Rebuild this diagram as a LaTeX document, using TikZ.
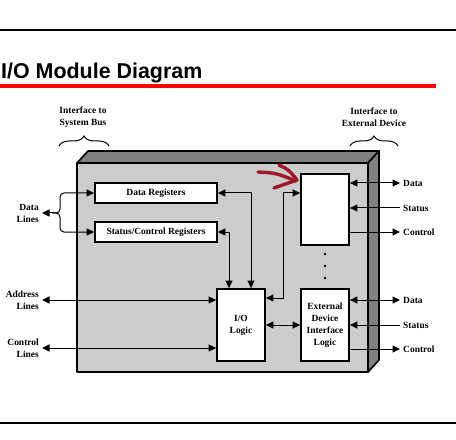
\documentclass[tikz,border=0pt]{standalone}
\usepackage{fontspec}
\setmainfont{Liberation Serif}
\newfontfamily\titlefont{Liberation Sans}
\usetikzlibrary{arrows.meta}
\usetikzlibrary{calc}
\usetikzlibrary{positioning}
\usetikzlibrary{decorations.pathreplacing}
\definecolor{facegray}{HTML}{CCCCCC}
\definecolor{edgegray}{HTML}{808080}
\definecolor{penred}{HTML}{9E1A2A}

\begin{document}
\begin{tikzpicture}[x=1bp, y=-1bp, auto, >={Triangle[length=7.5bp,width=7bp]}]
    \fontsize{9.5}{12}\selectfont\bfseries

    \tikzstyle{blk} = [rectangle, draw=black, line width=1.8bp, fill=white, align=center, inner sep=0pt]
    \tikzstyle{lab} = [rectangle, inner sep=3bp]
    \tikzstyle{connector} = [<->, line width=1bp]
    \tikzstyle{line} = [line width=1bp]
    \tikzstyle{face} = [draw=black, line width=1.6bp, line join=round]
    \tikzstyle{rule} = [line width=2bp]
    \tikzstyle{pen} = [penred, line width=3.4bp, line cap=round, line join=round]

    \useasboundingbox (0,0) rectangle (456,440);

    % Page rules and heading %%%%%%%%%%%%%%%%%%%%%%%%%%%%%%%%%%%%%%%%%%%%%%%%%%%%%%%%%%%%%
    \draw[rule] (0,30) -- (456,30);
    \draw[rule] (0,423) -- (456,423);
    \node[anchor=base west, inner sep=0pt, font={\titlefont\bfseries\fontsize{21.5}{24}\selectfont}] (title) at (1,79) {I/O Module Diagram};
    \draw[red, line width=4bp] (0,86) -- (436,86);

    % The module itself (front, top and side faces) %%%%%%%%%%%%%%%%%%%%%%%%%%%%%%%%%%%%%%%
    \fill[facegray] (77,163) rectangle (368,372);
    \filldraw[fill=edgegray, face] (77,163) -- (88,151) -- (379,151) -- (368,163) -- cycle;
    \filldraw[fill=edgegray, face] (368,163) -- (379,151) -- (379,360) -- (368,372) -- cycle;
    \draw[face] (77,163) rectangle (368,372);

    \node[lab, align=center] (sysBus) at (83,117) {Interface to\\System Bus};
    \node[lab, align=center] (extDev) at (374,117) {Interface to\\External Device};
    \draw[line, decorate, decoration={brace, amplitude=10bp}] (59,146) -- (109,146);
    \draw[line, decorate, decoration={brace, amplitude=10bp}] (350,146) -- (398,146);

    % Blocks %%%%%%%%%%%%%%%%%%%%%%%%%%%%%%%%%%%%%%%%%%%%%%%%%%%%%%%%%%%%%%%%%%%%%%%%%%%%%%
    \node[blk, minimum width=122bp, minimum height=20bp] (dataReg) at (156,193) {Data Registers};
    \node[blk, minimum width=122bp, minimum height=20bp] (statReg) at (156,232) {Status/Control Registers};
    \node[blk, minimum width=48bp, minimum height=72bp] (ioLogic) at (241,325) {I/O\\Logic};
    \node[blk, minimum width=48bp, minimum height=71bp] (devBuf) at (325,209.5) {};
    \node[blk, minimum width=48bp, minimum height=72bp] (devLogic) at (325,325) {External\\Device\\Interface\\Logic};

    \fill (325,254) circle (1.4bp);
    \fill (325,266) circle (1.4bp);
    \fill (325,278) circle (1.4bp);

    % Signal labels %%%%%%%%%%%%%%%%%%%%%%%%%%%%%%%%%%%%%%%%%%%%%%%%%%%%%%%%%%%%%%%%%%%%%%%
    \node[lab, anchor=east, align=right] (dataLbl) at (42,213) {Data\\Lines};
    \node[lab, anchor=east, align=right] (addrLbl) at (42,300) {Address\\Lines};
    \node[lab, anchor=east, align=right] (ctrlLbl) at (42,348) {Control\\Lines};

    \node[lab, anchor=west] (dataA) at (400,183) {Data};
    \node[lab, anchor=west] (statA) at (400,208) {Status};
    \node[lab, anchor=west] (ctrlA) at (400,232) {Control};
    \node[lab, anchor=west] (dataB) at (400,300) {Data};
    \node[lab, anchor=west] (statB) at (400,325) {Status};
    \node[lab, anchor=west] (ctrlB) at (400,349) {Control};

    % Now link the nodes %%%%%%%%%%%%%%%%%%%%%%%%%%%%%%%%%%%%%%%%%%%%%%%%%%%%%%%%%%%%%%%%%%
    \coordinate (fork) at (52,213);
    \draw [->, line] (fork) -- (dataLbl.east);
    \draw [->, line, rounded corners=4bp] (fork) -- ++(8,0) |- (dataReg.west);
    \draw [->, line, rounded corners=4bp] (fork) -- ++(8,0) |- (statReg.west);
    \draw [connector] (addrLbl.east) -- (addrLbl.east -| ioLogic.west);
    \draw [connector] (ctrlLbl.east) -- (ctrlLbl.east -| ioLogic.west);

    \draw [connector] (dataReg.east) -| ($(ioLogic.north) + (10,0)$);
    \draw [connector] (statReg.east) -| ($(ioLogic.north) + (-12,0)$);
    \draw [connector] ($(ioLogic.east) + (0,-27)$) -- ++(18,0) |- ($(devBuf.west) + (0,-16.5)$);
    \draw [connector] (ioLogic) -- (devLogic);

    \draw [connector] (dataA.west -| devBuf.east) -- (dataA.west);
    \draw [->, line]  (statA.west) -- (statA.west -| devBuf.east);
    \draw [->, line]  (ctrlA.west -| devBuf.east) -- (ctrlA.west);
    \draw [connector] (dataB.west -| devLogic.east) -- (dataB.west);
    \draw [->, line]  (statB.west) -- (statB.west -| devLogic.east);
    \draw [->, line]  (ctrlB.west -| devLogic.east) -- (ctrlB.west);

    % Hand-drawn mark
    \draw[pen] (258,172) .. controls (276,173) .. (296,181);
    \draw[pen] (279,165) .. controls (289,170) .. (297,180) -- (274,188);

\end{tikzpicture}
\end{document}
